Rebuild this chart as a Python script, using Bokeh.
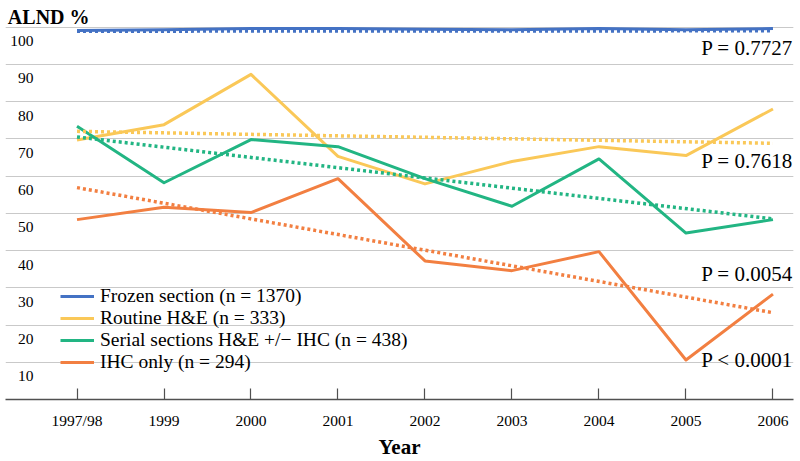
from bokeh.plotting import figure
from bokeh.models import Range1d, FixedTicker, Grid, Legend, LegendItem
from bokeh.core.properties import value
from bokeh.embed import file_html
from bokeh.resources import INLINE

# ---- data ----
years = ["1997/98", "1999", "2000", "2001", "2002", "2003", "2004", "2005", "2006"]
frozen = [99.1, 99.3, 99.6, 99.6, 99.4, 99.3, 99.6, 99.3, 99.6]
routine = [69.7, 73.8, 87.3, 65.3, 57.9, 63.9, 67.9, 65.5, 78.0]
serial = [73.4, 58.2, 69.8, 67.9, 59.3, 51.9, 64.6, 44.7, 48.3]
ihc = [48.3, 51.6, 50.2, 59.3, 37.2, 34.6, 39.7, 10.6, 28.3]

# linear trend lines: value at first and last year
trend_frozen = [98.9, 99.0]
trend_routine = [72.0, 68.8]
trend_serial = [70.5, 48.5]
trend_ihc = [56.9, 23.3]

series_names = ["Frozen section (n = 1370)", "Routine H&E (n = 333)",
                "Serial sections H&E +/\u2212 IHC (n = 438)", "IHC only (n = 294)"]
p_texts = ["P = 0.7727", "P = 0.7618", "P = 0.0054", "P < 0.0001"]
p_text_y = [93.1, 62.6, 32.3, 9.3]
y_ticks = [10, 20, 30, 40, 50, 60, 70, 80, 90, 100]

colors = ["#4472C4", "#FAC858", "#22B583", "#F27F41"]
FONT = "Liberation Serif"

x = list(range(len(years)))
x_ends = [x[0], x[-1]]

p = figure(width=800, height=461, output_backend="svg", toolbar_location=None,
           x_range=Range1d(-0.822, 8.236), y_range=Range1d(0, 107.14),
           y_axis_location=None, min_border_left=5, min_border_right=7,
           min_border_top=0, min_border_bottom=56)
p.outline_line_color = None
p.background_fill_color = "white"
p.border_fill_color = "white"
p.xgrid.visible = False

grid = Grid(dimension=1, ticker=FixedTicker(ticks=y_ticks),
            grid_line_color="#C9C9C9", grid_line_width=1)
p.add_layout(grid)

xa = p.xaxis[0]
xa.ticker = FixedTicker(ticks=x)
xa.major_label_overrides = {i: y for i, y in enumerate(years)}
xa.major_tick_in = 11
xa.major_tick_out = 0
xa.minor_tick_line_color = None
xa.axis_line_color = "#505050"
xa.axis_line_width = 1.5
xa.major_tick_line_color = "#505050"
xa.major_tick_line_width = 1.2
xa.major_label_text_font = FONT
xa.major_label_text_font_size = "15.5px"
xa.major_label_text_color = "black"
xa.major_label_standoff = 12
xa.axis_label = "Year"
xa.axis_label_text_font = FONT
xa.axis_label_text_font_size = "21px"
xa.axis_label_text_font_style = "bold"
xa.axis_label_text_color = "black"
xa.axis_label_standoff = 3

series = [frozen, routine, serial, ihc]
trends = [trend_frozen, trend_routine, trend_serial, trend_ihc]
renderers = []
for vals, c in zip(series, colors):
    r = p.line(x, vals, line_color=c, line_width=3, line_join="round")
    renderers.append(r)
for tv, c in zip(trends, colors):
    p.line(x_ends, tv, line_color=c, line_width=3.5, line_dash="3 3")

legend = Legend(items=[LegendItem(label=n, renderers=[r]) for n, r in zip(series_names, renderers)],
                location=(55, 26), padding=0, margin=0, spacing=0,
                glyph_width=34, glyph_height=20, label_height=20, label_standoff=6,
                label_text_font=FONT, label_text_font_size="19.5px", label_text_color="black",
                background_fill_alpha=0, border_line_alpha=0)
p.add_layout(legend)

# y tick labels (drawn below each gridline, inside the plot area)
p.text(x=[-0.5] * len(y_ticks), y=y_ticks, text=[str(v) for v in y_ticks],
       text_align="right", text_baseline="alphabetic", y_offset=14,
       text_font=value(FONT), text_font_size="15.5px", text_color="black")

# P value annotations
p.text(x=[x[-1]] * len(p_texts), y=p_text_y, text=p_texts, x_offset=20, y_offset=-5,
       text_align="right", text_baseline="alphabetic",
       text_font=value(FONT), text_font_size="21px", text_color="black")

# y axis title
p.text(x=[-0.795], y=[101.7], text=["ALND %"], text_align="left", text_baseline="alphabetic",
       y_offset=-4, text_font=value(FONT), text_font_size="20px", text_font_style="bold",
       text_color="black")

open("out.html", "w").write(file_html(p, INLINE))
